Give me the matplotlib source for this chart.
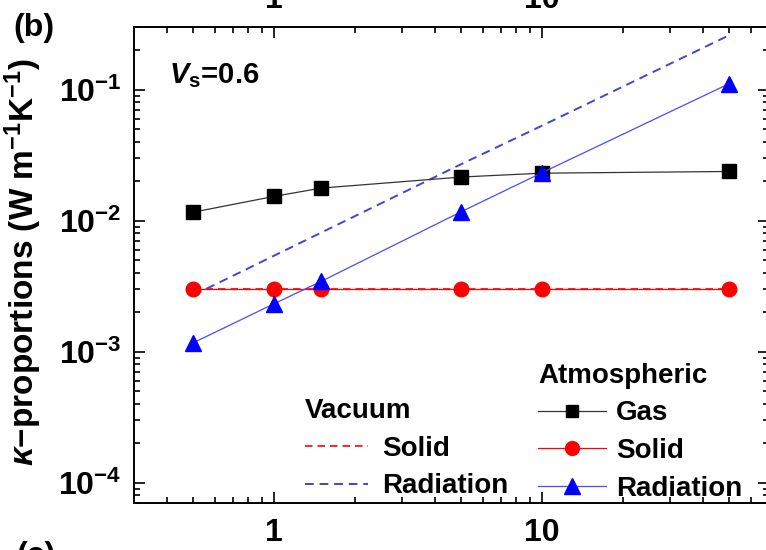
import numpy as np
import matplotlib
matplotlib.use("Agg")
import matplotlib.pyplot as plt
from matplotlib.ticker import NullFormatter, FixedLocator, FixedFormatter

plt.rcParams["font.family"] = ["Liberation Sans", "DejaVu Sans"]
plt.rcParams["font.weight"] = "bold"
plt.rcParams["mathtext.fontset"] = "custom"
plt.rcParams["mathtext.rm"] = "Liberation Sans:bold"
plt.rcParams["mathtext.bf"] = "Liberation Sans:bold"
plt.rcParams["mathtext.it"] = "Liberation Sans:italic"
plt.rcParams["mathtext.bfit"] = "Liberation Sans:bold:italic"

# data
x_vals = [0.5, 1, 1.5, 5, 10, 50]
atm_gas = [0.0116, 0.0153, 0.0177, 0.0215, 0.0230, 0.0237]
atm_solid = [0.00303, 0.00303, 0.00303, 0.00303, 0.00303, 0.00303]
atm_rad = [0.00117, 0.00232, 0.00344, 0.0117, 0.0232, 0.111]
vac_solid = [0.00303, 0.00303, 0.00303, 0.00303, 0.00303, 0.00303]
vac_rad = [0.0027, 0.0054, 0.0081, 0.027, 0.053, 0.26]

x_ticks = [1, 10]
x_tick_labels = ["1", "10"]

fig = plt.figure(figsize=(7.66, 5.5), dpi=100)
W, H = 766, 550
ax = fig.add_axes([134 / W, 1 - 503 / H, (768.5 - 134) / W, (503 - 27) / H])

# vacuum (dashed)
l_vs, = ax.plot(x_vals, vac_solid, color="red", lw=1.2, dashes=(4.5, 3), zorder=2)
l_vr, = ax.plot(x_vals, vac_rad, color="#4444cc", lw=1.4, dashes=(4.5, 3), zorder=2)

# atmospheric (markers)
l_g, = ax.plot(x_vals, atm_gas, color="#333333", lw=0.9, marker="s", ms=9.5,
               mfc="black", mec="black", zorder=3)
l_s, = ax.plot(x_vals, atm_solid, color="red", lw=0.9, marker="o", ms=10.5,
               mfc="red", mec="red", zorder=3)
l_r, = ax.plot(x_vals, atm_rad, color="#4a4aff", lw=0.9, marker="^", ms=11.5,
               mfc="blue", mec="blue", zorder=3)

ax.set_xscale("log")
ax.set_yscale("log")
ax.set_xlim(0.3, 70)
ax.set_ylim(7.0e-5, 0.3)

ax.xaxis.set_major_locator(FixedLocator(x_ticks))
ax.xaxis.set_major_formatter(FixedFormatter(x_tick_labels))
ax.xaxis.set_minor_formatter(NullFormatter())
ax.yaxis.set_minor_formatter(NullFormatter())

ax.tick_params(which="both", direction="in", top=True, right=True, width=1.2)
ax.tick_params(which="major", length=8, labelsize=23)
ax.tick_params(axis="x", which="major", pad=11)
ax.tick_params(axis="y", which="major", pad=9)
ax.tick_params(which="minor", length=4.5)
for sp in ax.spines.values():
    sp.set_linewidth(1.4)

ax.set_ylabel(r"$\kappa$" + "\u2212proportions (W m$^{-1}$K$^{-1}$)", fontsize=24,
              fontweight="bold")
ax.yaxis.set_label_coords(-0.142, 0.506)

ax.text(0.055, 0.882, r"$\mathbfit{V}_{\mathrm{s}}$=0.6", transform=ax.transAxes,
        fontsize=21, fontweight="bold", va="baseline")

# legends
leg_atm = ax.legend([l_g, l_s, l_r], ["Gas", "Solid", "Radiation"], title="Atmospheric",
                    loc="upper left", bbox_to_anchor=(0.637, 0.2945), frameon=False,
                    fontsize=20, title_fontproperties={"size": 20, "weight": "bold"},
                    alignment="left", borderpad=0, borderaxespad=0,
                    handlelength=2.45, handletextpad=0.36, labelspacing=0.42,
                    markerscale=0.95)
ax.add_artist(leg_atm)
ax.legend([l_vs, l_vr], ["Solid", "Radiation"], title="Vacuum",
          loc="upper left", bbox_to_anchor=(0.2695, 0.2205), frameon=False,
          fontsize=20, title_fontproperties={"size": 20, "weight": "bold"},
          alignment="left", borderpad=0, borderaxespad=0,
          handlelength=2.27, handletextpad=0.5, labelspacing=0.42)

# panel labels (cropped neighbours included)
fig.text(13 / W, 1 - 36 / H, "(b)", fontsize=23, fontweight="bold", va="baseline")
fig.text(274 / W, 1 - 8 / H, "1", fontsize=23, fontweight="bold", ha="center", va="baseline")
fig.text(542 / W, 1 - 8 / H, "10", fontsize=23, fontweight="bold", ha="center", va="baseline")
fig.text(16 / W, 1 - 541 / H, "(c)", fontsize=23, fontweight="bold", va="top")

fig.savefig("out.png", dpi=100)
